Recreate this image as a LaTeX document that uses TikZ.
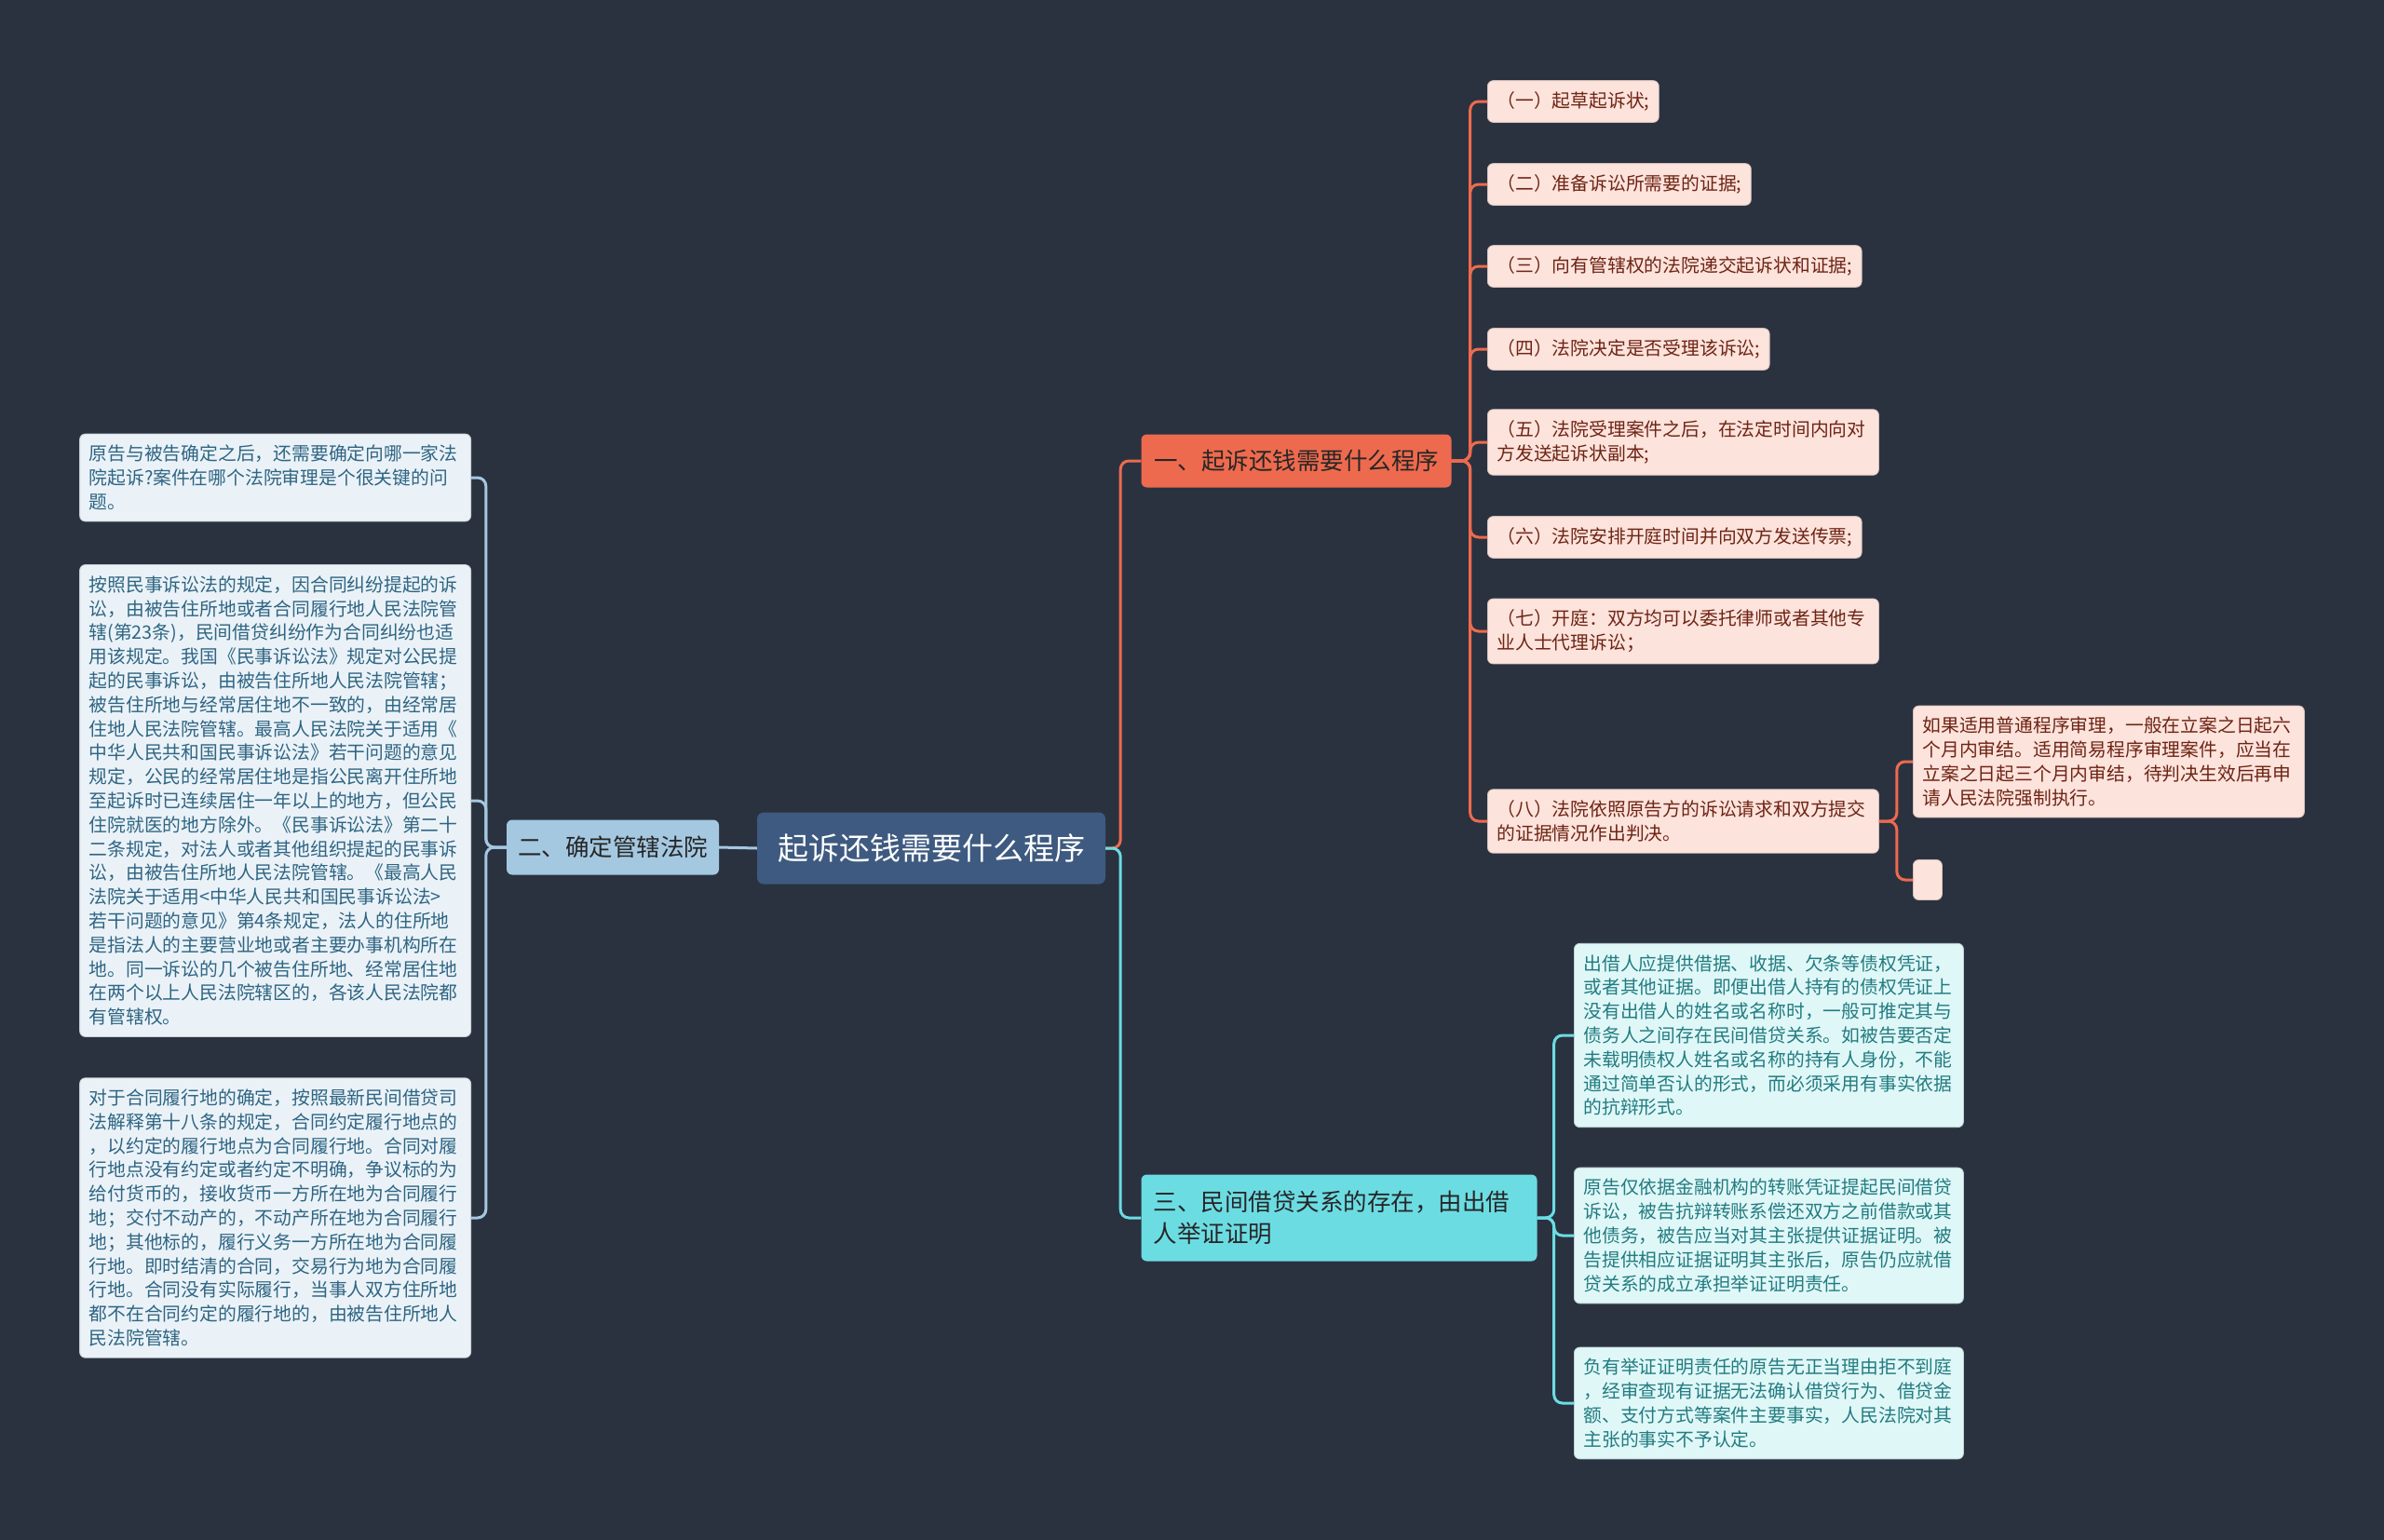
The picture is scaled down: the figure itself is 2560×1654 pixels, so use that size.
\documentclass[tikz,border=0pt]{standalone}
\usepackage{fontspec}
\setmainfont{Noto Sans CJK SC}
\usetikzlibrary{positioning}
\definecolor{bgcol}{HTML}{2A3240}
\definecolor{rootcol}{HTML}{3E5A80}
\definecolor{courtcol}{HTML}{A5C8E1}
\definecolor{stepcol}{HTML}{EE6A4E}
\definecolor{proofcol}{HTML}{6CDCE3}
\definecolor{stepfill}{HTML}{FCE3DC}
\definecolor{steptext}{HTML}{6E2414}
\definecolor{courtfill}{HTML}{EAF2F8}
\definecolor{courttext}{HTML}{2F6582}
\definecolor{prooffill}{HTML}{E0F7F8}
\definecolor{prooftext}{HTML}{227C80}
\tikzset{
    %Define style for the central topic
    topic/.style={
           rectangle,
           rounded corners=7pt,
           fill=rootcol,
           text=white,
           font=\fontsize{33}{40}\selectfont,
           minimum width=374pt,
           minimum height=77pt,
           inner sep=0pt},
    %Define style for the three branches
    branch/.style={
           rectangle,
           rounded corners=6pt,
           text=black!85,
           font=\fontsize{25.5}{34}\selectfont,
           inner sep=0pt},
    %Define style for the leaves
    leaf/.style={
           rectangle,
           rounded corners=6pt,
           font=\fontsize{19.8}{25.8}\selectfont,
           align=left,
           inner xsep=10pt,
           inner ysep=12pt},
    stepbox/.style={leaf, fill=stepfill, draw=stepfill!85!black, line width=0.8pt, text=steptext},
    courtbox/.style={leaf, fill=courtfill, draw=courtfill!85!black, line width=0.8pt, text=courttext, text width=400pt},
    proofbox/.style={leaf, fill=prooffill, draw=prooffill!85!black, line width=0.8pt, text=prooftext, text width=398pt},
    % Define connector style
    link/.style={
           line width=3pt,
           rounded corners=9pt}
}
\begin{document}
\begin{tikzpicture}[x=1pt,y=-1pt]
\fill[bgcol] (0,0) rectangle (2560,1654);
\useasboundingbox (0,0) rectangle (2560,1654);

\node[topic] (Root) at (1000,911) {起诉还钱需要什么程序};
\node[branch, fill=courtcol, minimum width=228pt, minimum height=59pt] (Court) at (658,910) {二、确定管辖法院};
\node[branch, fill=stepcol, minimum width=333pt, minimum height=57pt] (Steps) at (1392,495) {一、起诉还钱需要什么程序};
\node[branch, fill=proofcol, minimum width=425pt, minimum height=93pt, text width=399pt, align=left] (Proof) at (1438,1308) {三、民间借贷关系的存在，由出借\\人举证证明};

% steps of the lawsuit
\node[stepbox, anchor=west] (S1) at (1597,109) {（一）起草起诉状;};
\node[stepbox, anchor=west] (S2) at (1597,198) {（二）准备诉讼所需要的证据;};
\node[stepbox, anchor=west] (S3) at (1597,286) {（三）向有管辖权的法院递交起诉状和证据;};
\node[stepbox, anchor=west] (S4) at (1597,375) {（四）法院决定是否受理该诉讼;};
\node[stepbox, anchor=west, text width=400pt] (S5) at (1597,475) {（五）法院受理案件之后，在法定时间内向对\\方发送起诉状副本;};
\node[stepbox, anchor=west] (S6) at (1597,577) {（六）法院安排开庭时间并向双方发送传票;};
\node[stepbox, anchor=west, text width=400pt] (S7) at (1597,678) {（七）开庭：双方均可以委托律师或者其他专\\业人士代理诉讼；};
\node[stepbox, anchor=west, text width=400pt] (S8) at (1597,882) {（八）法院依照原告方的诉讼请求和双方提交\\的证据情况作出判决。};
\node[stepbox, anchor=west, text width=400pt] (S8a) at (2054,818) {如果适用普通程序审理，一般在立案之日起六\\个月内审结。适用简易程序审理案件，应当在\\立案之日起三个月内审结，待判决生效后再申\\请人民法院强制执行。};
\node[stepbox, anchor=west, inner sep=0pt, minimum width=31pt, minimum height=43pt] (S8b) at (2054,945) {};

% jurisdiction
\node[courtbox, anchor=east] (C1) at (506,513) {原告与被告确定之后，还需要确定向哪一家法\\院起诉?案件在哪个法院审理是个很关键的问\\题。};
\node[courtbox, anchor=east] (C2) at (506,860) {按照民事诉讼法的规定，因合同纠纷提起的诉\\讼，由被告住所地或者合同履行地人民法院管\\辖(第23条)，民间借贷纠纷作为合同纠纷也适\\用该规定。我国《民事诉讼法》规定对公民提\\起的民事诉讼，由被告住所地人民法院管辖；\\被告住所地与经常居住地不一致的，由经常居\\住地人民法院管辖。最高人民法院关于适用《\\中华人民共和国民事诉讼法》若干问题的意见\\规定，公民的经常居住地是指公民离开住所地\\至起诉时已连续居住一年以上的地方，但公民\\住院就医的地方除外。《民事诉讼法》第二十\\二条规定，对法人或者其他组织提起的民事诉\\讼，由被告住所地人民法院管辖。《最高人民\\法院关于适用<中华人民共和国民事诉讼法>\\若干问题的意见》第4条规定，法人的住所地\\是指法人的主要营业地或者主要办事机构所在\\地。同一诉讼的几个被告住所地、经常居住地\\在两个以上人民法院辖区的，各该人民法院都\\有管辖权。};
\node[courtbox, anchor=east] (C3) at (506,1308) {对于合同履行地的确定，按照最新民间借贷司\\法解释第十八条的规定，合同约定履行地点的\\，以约定的履行地点为合同履行地。合同对履\\行地点没有约定或者约定不明确，争议标的为\\给付货币的，接收货币一方所在地为合同履行\\地；交付不动产的，不动产所在地为合同履行\\地；其他标的，履行义务一方所在地为合同履\\行地。即时结清的合同，交易行为地为合同履\\行地。合同没有实际履行，当事人双方住所地\\都不在合同约定的履行地的，由被告住所地人\\民法院管辖。};

% burden of proof
\node[proofbox, anchor=west] (P1) at (1690,1112) {出借人应提供借据、收据、欠条等债权凭证，\\或者其他证据。即便出借人持有的债权凭证上\\没有出借人的姓名或名称时，一般可推定其与\\债务人之间存在民间借贷关系。如被告要否定\\未载明债权人姓名或名称的持有人身份，不能\\通过简单否认的形式，而必须采用有事实依据\\的抗辩形式。};
\node[proofbox, anchor=west] (P2) at (1690,1327) {原告仅依据金融机构的转账凭证提起民间借贷\\诉讼，被告抗辩转账系偿还双方之前借款或其\\他债务，被告应当对其主张提供证据证明。被\\告提供相应证据证明其主张后，原告仍应就借\\贷关系的成立承担举证证明责任。};
\node[proofbox, anchor=west] (P3) at (1690,1507) {负有举证证明责任的原告无正当理由拒不到庭\\，经审查现有证据无法确认借贷行为、借贷金\\额、支付方式等案件主要事实，人民法院对其\\主张的事实不予认定。};

% connectors
\draw[link, courtcol] (Root.west) -- (Court.east);
\draw[link, stepcol] (Root.east) -- ++(16,0) |- (Steps.west);
\draw[link, proofcol] (Root.east) -- ++(16,0) |- (Proof.west);
\foreach \n in {S1,S2,S3,S4,S5,S6,S7,S8}
    \draw[link, stepcol] (Steps.east) -- ++(20,0) |- (\n.west);
\foreach \n in {S8a,S8b}
    \draw[link, stepcol] (S8.east) -- ++(19,0) |- (\n.west);
\foreach \n in {C1,C2,C3}
    \draw[link, courtcol] (Court.west) -- ++(-22,0) |- (\n.east);
\foreach \n in {P1,P2,P3}
    \draw[link, proofcol] (Proof.east) -- ++(18,0) |- (\n.west);
\end{tikzpicture}
\end{document}
